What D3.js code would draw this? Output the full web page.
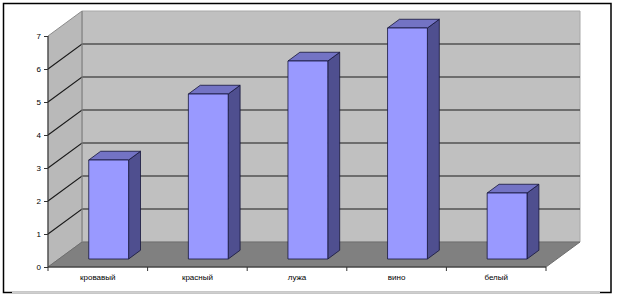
<!DOCTYPE html>
<html>
<head>
<meta charset="utf-8">
<script src="https://cdn.jsdelivr.net/npm/d3@7"></script>
<style>
  html, body { margin: 0; padding: 0; background: #fff; }
  svg { display: block; font-family: "Liberation Sans", Arial, sans-serif; }
</style>
</head>
<body>
<div id="chart"></div>
<script>
const categories = ["кровавый", "красный", "лужа", "вино", "белый"];
const values = [3, 5, 6, 7, 2];
const yTicks = [0, 1, 2, 3, 4, 5, 6, 7];

const width = 618, height = 297;
const ox = 48, oy = 267;          // front-bottom-left corner of the plot
const depthX = 34, depthY = 25;   // 3d depth offset
const plotW = 498, plotH = 231;

const svg = d3.select("#chart").append("svg")
    .attr("width", width)
    .attr("height", height);

// frame
svg.append("rect")
    .attr("x", 3.5).attr("y", 3.5)
    .attr("width", 607.5).attr("height", 289)
    .attr("fill", "#fff")
    .attr("stroke", "#000")
    .attr("stroke-width", 1.5);
svg.append("line")
    .attr("x1", 12).attr("x2", 600)
    .attr("y1", 292.5).attr("y2", 292.5)
    .attr("stroke", "#cfcfcf").attr("stroke-width", 2);

var x = d3.scaleBand()
    .domain(categories)
    .range([0, plotW])
    .paddingInner(0)
    .paddingOuter(0);
var y = d3.scaleLinear()
    .domain([0, 7])
    .range([0, plotH]);

// project (x along front, value, depth 0..1) to screen
function pt(px, v, d) {
    return [ox + px + d * depthX, oy - y(v) - d * depthY];
}
function poly(points) {
    return points.map(p => p.join(",")).join(" ");
}

const g = svg.append("g");

// back wall
g.append("polygon")
    .attr("points", poly([pt(0, 0, 1), pt(plotW, 0, 1), pt(plotW, 7, 1), pt(0, 7, 1)]))
    .attr("fill", "#c0c0c0")
    .attr("stroke", "#a8a8a8");
// left wall
g.append("polygon")
    .attr("points", poly([pt(0, 0, 0), pt(0, 0, 1), pt(0, 7, 1), pt(0, 7, 0)]))
    .attr("fill", "#b9b9b9")
    .attr("stroke", "#8c8c8c");
// floor
g.append("polygon")
    .attr("points", poly([pt(0, 0, 0), pt(plotW, 0, 0), pt(plotW, 0, 1), pt(0, 0, 1)]))
    .attr("fill", "#808080")
    .attr("stroke", "#6e6e6e");

// gridlines
yTicks.filter(v => v > 0 && v < 7).forEach(v => {
    g.append("polyline")
        .attr("points", poly([pt(0, v, 0), pt(0, v, 1), pt(plotW, v, 1)]))
        .attr("fill", "none")
        .attr("stroke", "#1a1a1a")
        .attr("stroke-width", 1.1);
});
// wall edge
g.append("line")
    .attr("x1", pt(0, 0, 1)[0]).attr("y1", pt(0, 0, 1)[1])
    .attr("x2", pt(0, 7, 1)[0]).attr("y2", pt(0, 7, 1)[1])
    .attr("stroke", "#8a8a8a");

// y axis
const yAxisScale = d3.scaleLinear().domain([0, 7]).range([oy, oy - plotH]);
svg.append("g")
    .attr("transform", "translate(" + ox + ",0)")
    .call(d3.axisLeft(yAxisScale).tickValues(yTicks).tickFormat(d3.format("d")).tickSize(4).tickPadding(3))
    .call(a => a.select(".domain").attr("stroke", "#333").attr("d", "M0," + oy + "V" + (oy - plotH)))
    .call(a => a.selectAll(".tick line").attr("stroke", "#333"))
    .call(a => a.selectAll("text").style("font-size", "8px").attr("fill", "#000"));

// x axis
svg.append("g")
    .attr("transform", "translate(" + ox + "," + oy + ")")
    .call(d3.axisBottom(x).tickSize(0).tickPadding(7))
    .call(a => a.select(".domain").attr("stroke", "#333").attr("d", "M0,0H" + plotW))
    .call(a => a.selectAll("text").style("font-size", "8px").attr("fill", "#000"));
svg.append("g")
    .selectAll("line")
    .data(categories.map(c => x(c)).concat([plotW]))
    .enter().append("line")
    .attr("x1", d => ox + d).attr("x2", d => ox + d)
    .attr("y1", oy).attr("y2", oy + 4)
    .attr("stroke", "#333");

// bars
const d0 = 0.32, d1 = 0.67;
const barW = x.bandwidth() * 0.4;
const bars = svg.append("g")
    .selectAll("g")
    .data(categories.map((c, i) => ({ c: c, v: values[i] })))
    .enter().append("g");

bars.append("polygon")
    .attr("points", d => {
        const x0 = x(d.c) + (x.bandwidth() - barW) / 2, x1 = x0 + barW;
        return poly([pt(x1, 0, d0), pt(x1, 0, d1), pt(x1, d.v, d1), pt(x1, d.v, d0)]);
    })
    .attr("fill", "#4f4f8f")
    .attr("stroke", "#15153a")
    .attr("stroke-width", 0.8);
bars.append("polygon")
    .attr("points", d => {
        const x0 = x(d.c) + (x.bandwidth() - barW) / 2, x1 = x0 + barW;
        return poly([pt(x0, d.v, d0), pt(x1, d.v, d0), pt(x1, d.v, d1), pt(x0, d.v, d1)]);
    })
    .attr("fill", "#7373c4")
    .attr("stroke", "#15153a")
    .attr("stroke-width", 0.8);
bars.append("polygon")
    .attr("points", d => {
        const x0 = x(d.c) + (x.bandwidth() - barW) / 2, x1 = x0 + barW;
        return poly([pt(x0, 0, d0), pt(x1, 0, d0), pt(x1, d.v, d0), pt(x0, d.v, d0)]);
    })
    .attr("fill", "#9999ff")
    .attr("stroke", "#15153a")
    .attr("stroke-width", 0.8);
</script>
</body>
</html>
